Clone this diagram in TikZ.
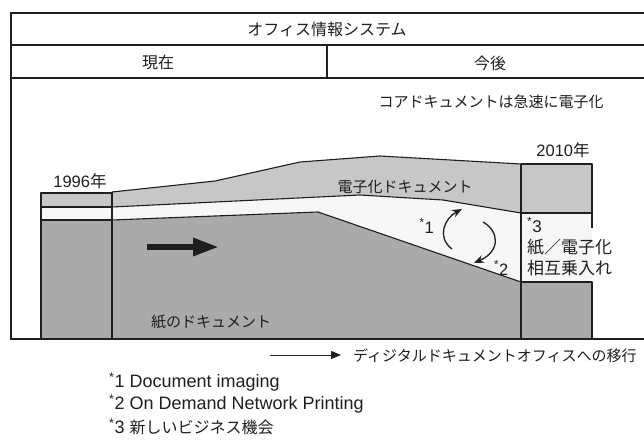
\documentclass[tikz,border=0pt]{standalone}
\usepackage{fontspec}
\setmainfont{Noto Sans CJK JP}
\newfontfamily\lat{Liberation Sans}
\usetikzlibrary{arrows.meta}
\definecolor{elec}{gray}{0.78}
\definecolor{paper}{gray}{0.665}
\definecolor{band}{gray}{0.965}
\definecolor{ink}{gray}{0.12}
\tikzset{
  frameline/.style={line width=1.1pt, draw=ink},
  edgeline/.style={line width=1.1pt, draw=ink, line join=round},
  lbl/.style={inner sep=0pt, text=ink, font=\fontsize{15}{18}\selectfont},
  biglbl/.style={inner sep=0pt, text=ink, font=\fontsize{16}{19}\selectfont},
  yearlbl/.style={inner sep=0pt, text=ink, font=\fontsize{16.5}{19}\selectfont},
  blocklbl/.style={inner sep=0pt, text=ink, anchor=west, font=\fontsize{17}{20}\selectfont},
  notelbl/.style={inner sep=0pt, text=ink, anchor=west, font=\fontsize{18}{21}\selectfont},
  bigarrow/.style={line width=6pt, draw=ink, -{Triangle[length=26pt,width=17pt]}},
  cyclearrow/.style={line width=1.3pt, draw=ink, -{Stealth[length=10pt,width=8pt]}},
  legendarrow/.style={line width=1pt, draw=ink, -{Triangle[length=10pt,width=8pt]}}
}
\begin{document}
\begin{tikzpicture}[x=1pt,y=-1pt]
\useasboundingbox (0,0) rectangle (644,439);
\fill[white] (0,0) rectangle (644,439);

% ---- fills of the middle area
\fill[elec] (112,192) -- (215,181) -- (300,162) -- (380,156) -- (521,164)
  -- (521,213) -- (443,200) -- (360,195) -- (112,207) -- cycle;
\fill[band] (112,207) -- (360,195) -- (443,200) -- (521,213)
  -- (521,282) -- (318,212) -- (112,220) -- cycle;
\fill[paper] (112,220) -- (318,212) -- (521,282) -- (521,339) -- (112,339) -- cycle;
% left block (1996)
\fill[elec] (41,193) rectangle (112,207);
\fill[band] (41,207) rectangle (112,220);
\fill[paper] (41,220) rectangle (112,339);
% right block (2010)
\fill[elec] (521,164) rectangle (592,213);
\fill[band] (521,213) rectangle (592,282);
\fill[paper] (521,282) rectangle (592,339);

% ---- outlines
\draw[edgeline] (41,339) -- (41,193) -- (112,193);
\draw[edgeline] (41,207) -- (112,207);
\draw[edgeline] (41,220) -- (112,220);
\draw[edgeline] (112,192) -- (112,339);
\draw[edgeline] (112,192) -- (215,181) -- (300,162) -- (380,156) -- (521,164);
\draw[edgeline] (112,207) -- (360,195) -- (443,200) -- (521,213);
\draw[edgeline] (112,220) -- (318,212) -- (521,282);
\draw[edgeline] (521,164) -- (521,339);
\draw[edgeline] (521,164) -- (592,164) -- (592,228);
\draw[edgeline] (521,213) -- (592,213);
\draw[edgeline] (521,282) -- (592,282) -- (592,339);

% ---- frame
\draw[frameline] (644,13) -- (11,13) -- (11,339) -- (644,339);
\draw[frameline] (11,45) -- (644,45);
\draw[frameline] (11,78) -- (644,78);
\draw[frameline] (327,45) -- (327,78);

% ---- header texts
\node[biglbl] (title) at (327,29) {オフィス情報システム};
\node[biglbl] (now) at (158,62) {現在};
\node[biglbl] (future) at (490,63) {今後};
\node[lbl] (core) at (491,102) {コアドキュメントは急速に電子化};

% ---- years
\node[yearlbl] (y2010) at (563,150) {{\lat 2010}年};
\node[yearlbl] (y1996) at (80,181) {{\lat 1996}年};

% ---- band labels
\node[lbl] (elecdoc) at (405,187) {電子化ドキュメント};
\node[lbl] (paperdoc) at (211,322) {紙のドキュメント};

% ---- big arrow
\coordinate (ba1) at (147,247);
\coordinate (ba2) at (219,247);
\draw[bigarrow] (ba1) -- (ba2);

% ---- cycle arrows
\coordinate (c1s) at (452,249);
\coordinate (c1e) at (462,209);
\coordinate (c2s) at (483,222);
\coordinate (c2e) at (474,263);
\draw[cyclearrow] (c1s) .. controls (436,237) and (445,218) .. (c1e);
\draw[cyclearrow] (c2s) .. controls (499,231) and (501,251) .. (c2e);
\node[yearlbl, anchor=east] (n1) at (434,226) {{\lat\textsuperscript{*}1}};
\node[yearlbl, anchor=west] (n2) at (494,268) {{\lat\textsuperscript{*}2}};

% ---- right block text
\node[blocklbl] (n3) at (527,225) {{\lat\textsuperscript{*}3}};
\node[blocklbl] (mix1) at (527,247) {紙／電子化};
\node[blocklbl] (mix2) at (527,268) {相互乗入れ};

% ---- legend
\coordinate (la1) at (270,355);
\coordinate (la2) at (341,355);
\draw[legendarrow] (la1) -- (la2);
\node[lbl, anchor=west] (legend) at (353,356) {ディジタルドキュメントオフィスへの移行};

% ---- footnotes
\node[notelbl] (f1) at (109,382) {{\lat\textsuperscript{*}1 Document imaging}};
\node[notelbl] (f2) at (109,404) {{\lat\textsuperscript{*}2 On Demand Network Printing}};
\node[notelbl] (f3) at (109,427) {{\lat\textsuperscript{*}3 }{\fontsize{16}{19}\selectfont 新しいビジネス機会}};
\end{tikzpicture}
\end{document}
